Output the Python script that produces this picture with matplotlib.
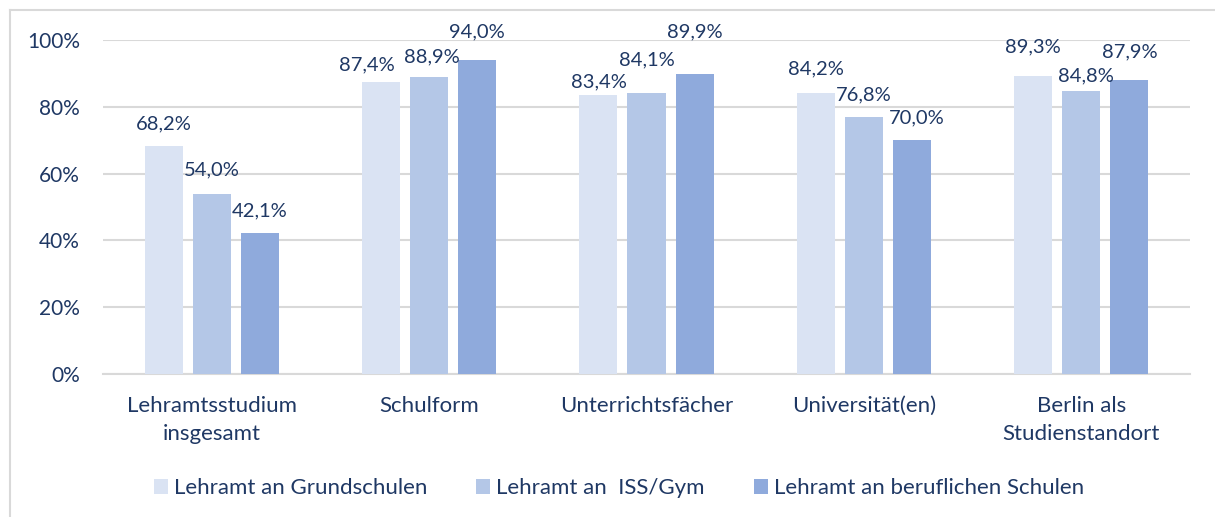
import numpy as np
import matplotlib
matplotlib.use("Agg")
import matplotlib.pyplot as plt
from matplotlib.lines import Line2D
from matplotlib.patches import Patch

plt.rcParams['font.family'] = ['Lato', 'DejaVu Sans']

categories = ["Lehramtsstudium\ninsgesamt", "Schulform", "Unterrichtsfächer",
              "Universität(en)", "Berlin als\nStudienstandort"]
series_names = ["Lehramt an Grundschulen", "Lehramt an  ISS/Gym",
                "Lehramt an beruflichen Schulen"]
grundschulen = [68.2, 87.4, 83.4, 84.2, 89.3]
iss_gym = [54.0, 88.9, 84.1, 76.8, 84.8]
beruflich = [42.1, 94.0, 89.9, 70.0, 87.9]
yticks = [0, 20, 40, 60, 80, 100]

# hand-placed data labels in the original (pixel nudges: dx, gap above bar)
label_dx = [[0, -14, 0, 0, 0], [0, 3, 0, 0, 5], [0, 0, 0, 5, 0]]
label_gap = [[17, 12, 8, 18, 23], [18, 15, 28, 17, 9], [17, 23, 36, 17, 23]]

colors = ["#DAE3F3", "#B4C7E7", "#8FAADC"]
text_col = "#1F3864"
grid_col = "#D9D9D9"

W, H = 1215, 517
fig = plt.figure(figsize=(W / 100, H / 100), dpi=100)
ax = fig.add_axes([103 / W, 1 - 374 / H, (1190 - 103) / W, (374 - 40) / H])

x = np.arange(len(categories))
step = 0.221
width = 0.175
all_series = [grundschulen, iss_gym, beruflich]
for i, vals in enumerate(all_series):
    xs = x + (i - 1) * step
    ax.bar(xs, vals, width, color=colors[i], label=series_names[i], zorder=3)
    for j, v in enumerate(vals):
        ax.annotate(f"{v:.1f}%".replace(".", ","), (xs[j], v),
                    xytext=(label_dx[i][j] * 0.72, label_gap[i][j] * 0.72),
                    textcoords='offset points', ha='center', va='baseline',
                    color=text_col, fontsize=14.5, zorder=4)

ax.set_xlim(-0.5, len(categories) - 0.5)
ax.set_ylim(0, 100)
ax.set_yticks(yticks)
ax.set_yticklabels([f"{t}%" for t in yticks], color=text_col, fontsize=15)
ax.set_xticks(x)
ax.set_xticklabels(categories, color=text_col, fontsize=16, linespacing=1.5)
ax.tick_params(axis='both', length=0)
ax.tick_params(axis='y', pad=16.5)
ax.tick_params(axis='x', pad=16)
ax.grid(axis='y', color=grid_col, linewidth=1.5, zorder=0)
for s in ['top', 'right', 'left']:
    ax.spines[s].set_visible(False)
ax.spines['bottom'].set_color(grid_col)
ax.spines['bottom'].set_linewidth(1.5)

# legend
handles = [Patch(facecolor=c, edgecolor='none') for c in colors]
leg = fig.legend(handles, series_names, loc='center', ncol=3,
                 bbox_to_anchor=(619 / W, 1 - 488 / H), frameon=False,
                 fontsize=16, handlelength=0.64, handleheight=0.64,
                 handletextpad=0.27, columnspacing=2.2)
for t in leg.get_texts():
    t.set_color(text_col)

# chart frame (left and top edge visible)
fig.add_artist(Line2D([10 / W, 10 / W], [0, 1 - 10 / H], color=grid_col,
                      linewidth=1.5, transform=fig.transFigure))
fig.add_artist(Line2D([10 / W, 1], [1 - 10 / H, 1 - 10 / H], color=grid_col,
                      linewidth=1.5, transform=fig.transFigure))

fig.savefig("out.png", dpi=100)
